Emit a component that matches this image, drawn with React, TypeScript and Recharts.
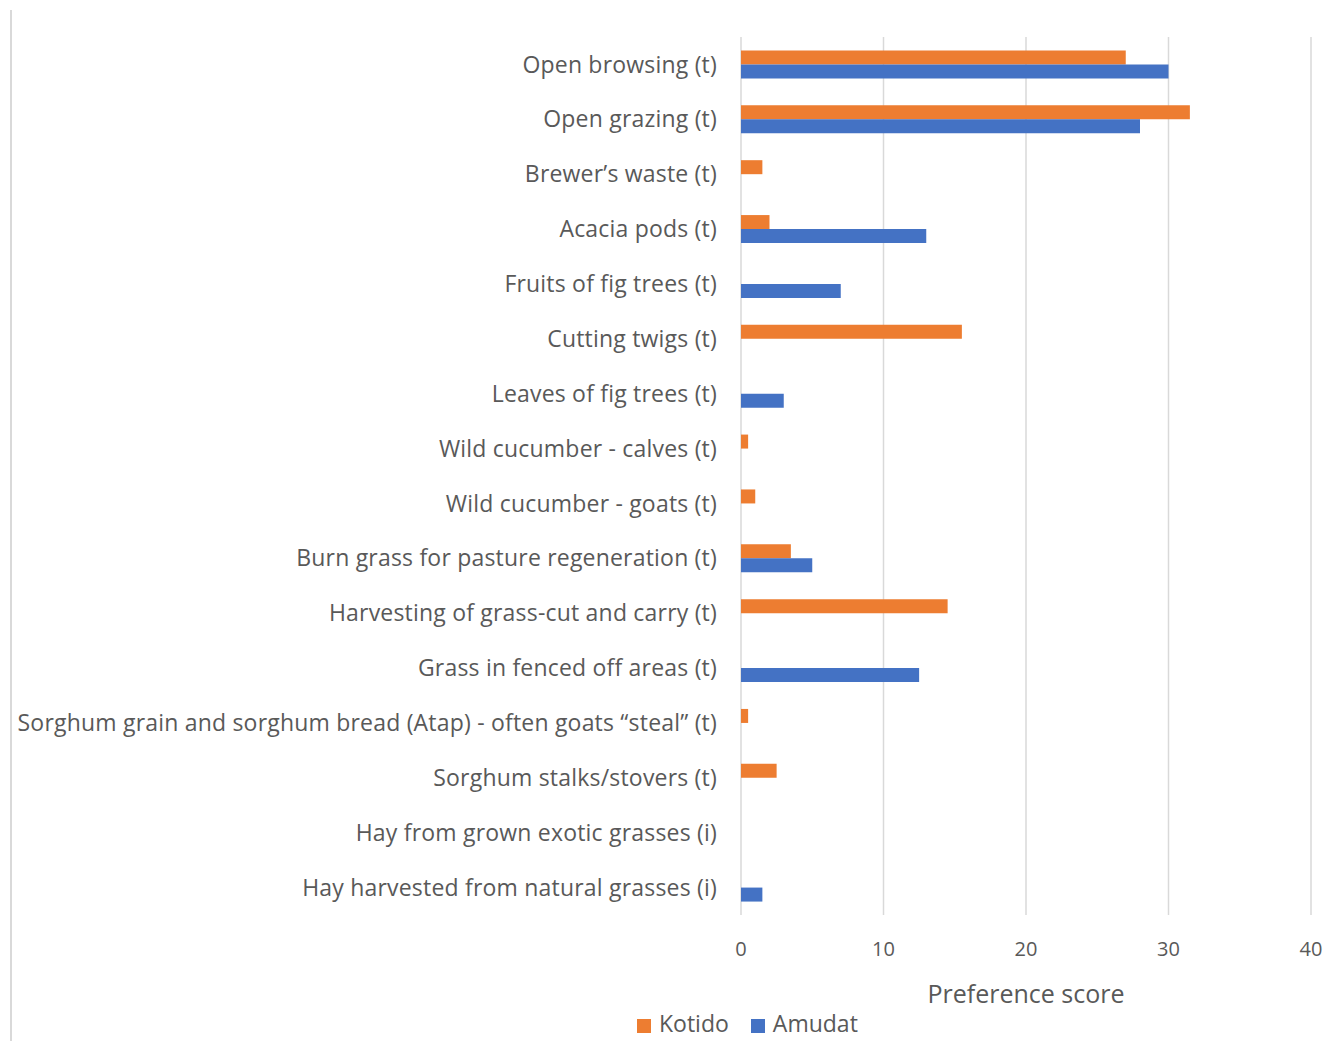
import { BarChart, Bar, XAxis, YAxis, CartesianGrid, Legend } from "recharts";

const categories = [
  "Open browsing (t)",
  "Open grazing (t)",
  "Brewer\u2019s waste (t)",
  "Acacia pods (t)",
  "Fruits of fig trees (t)",
  "Cutting twigs (t)",
  "Leaves of fig trees (t)",
  "Wild cucumber - calves (t)",
  "Wild cucumber - goats (t)",
  "Burn grass for pasture regeneration (t)",
  "Harvesting of grass-cut and carry (t)",
  "Grass in fenced off areas (t)",
  "Sorghum grain and sorghum bread (Atap) - often goats \u201csteal\u201d (t)",
  "Sorghum stalks/stovers (t)",
  "Hay from grown exotic grasses (i)",
  "Hay harvested from natural grasses (i)",
];

const kotido = [27, 31.5, 1.5, 2, 0, 15.5, 0, 0.5, 1, 3.5, 14.5, 0, 0.5, 2.5, 0, 0];
const amudat = [30, 28, 0, 13, 7, 0, 3, 0, 0, 5, 0, 12.5, 0, 0, 0, 1.5];

const xTicks = [0, 10, 20, 30, 40];
const seriesOrder = ["Kotido", "Amudat"];

const data = categories.map((name, i) => ({
  name,
  Kotido: kotido[i],
  Amudat: amudat[i],
}));

const FONT = "'Open Sans', 'Noto Sans', sans-serif";
const GREY = "#595959";

export default function App() {
  return (
    <div style={{ position: "absolute", left: 0, top: 0, width: 1329, height: 1041, background: "#fff", fontFamily: FONT }}>
      <div style={{ position: "absolute", left: 10, top: 10, width: 0, height: 1031, borderLeft: "2px solid #d9d9d9" }} />
      <BarChart
        width={1329}
        height={1041}
        data={data}
        layout="vertical"
        margin={{ top: 37, right: 18, bottom: 0, left: 0 }}
        barGap={0}
        barCategoryGap="24.5%"
      >
        <CartesianGrid horizontal={false} stroke="#d9d9d9" strokeWidth={1.5} />
        <XAxis
          type="number"
          domain={[0, 40]}
          ticks={xTicks}
          axisLine={false}
          tickLine={false}
          tickSize={0}
          tickMargin={27}
          height={126}
          tick={{ fill: GREY, fontSize: 20, fontFamily: FONT }}
          label={{ value: "Preference score", position: "insideTop", offset: 70, fill: GREY, fontSize: 25, fontFamily: FONT }}
        />
        <YAxis
          type="category"
          dataKey="name"
          width={741}
          axisLine={false}
          tickLine={false}
          tickSize={0}
          tickMargin={24}
          interval={0}
          tick={{ fill: GREY, fontSize: 23, fontFamily: FONT, letterSpacing: 0.2 }}
        />
        <Legend
          layout="horizontal"
          verticalAlign="middle"
          align="center"
          iconType="square"
          iconSize={14}
          itemSorter={(item: any) => seriesOrder.indexOf(item.value)}
          wrapperStyle={{ left: 637, top: 1006, width: "auto", fontSize: 23, fontFamily: FONT, lineHeight: "34px" }}
          formatter={(value) => <span style={{ color: GREY, marginLeft: 4, marginRight: 12 }}>{value}</span>}
        />
        <Bar dataKey="Kotido" fill="#ED7D31" isAnimationActive={false} />
        <Bar dataKey="Amudat" fill="#4472C4" isAnimationActive={false} />
      </BarChart>
    </div>
  );
}
